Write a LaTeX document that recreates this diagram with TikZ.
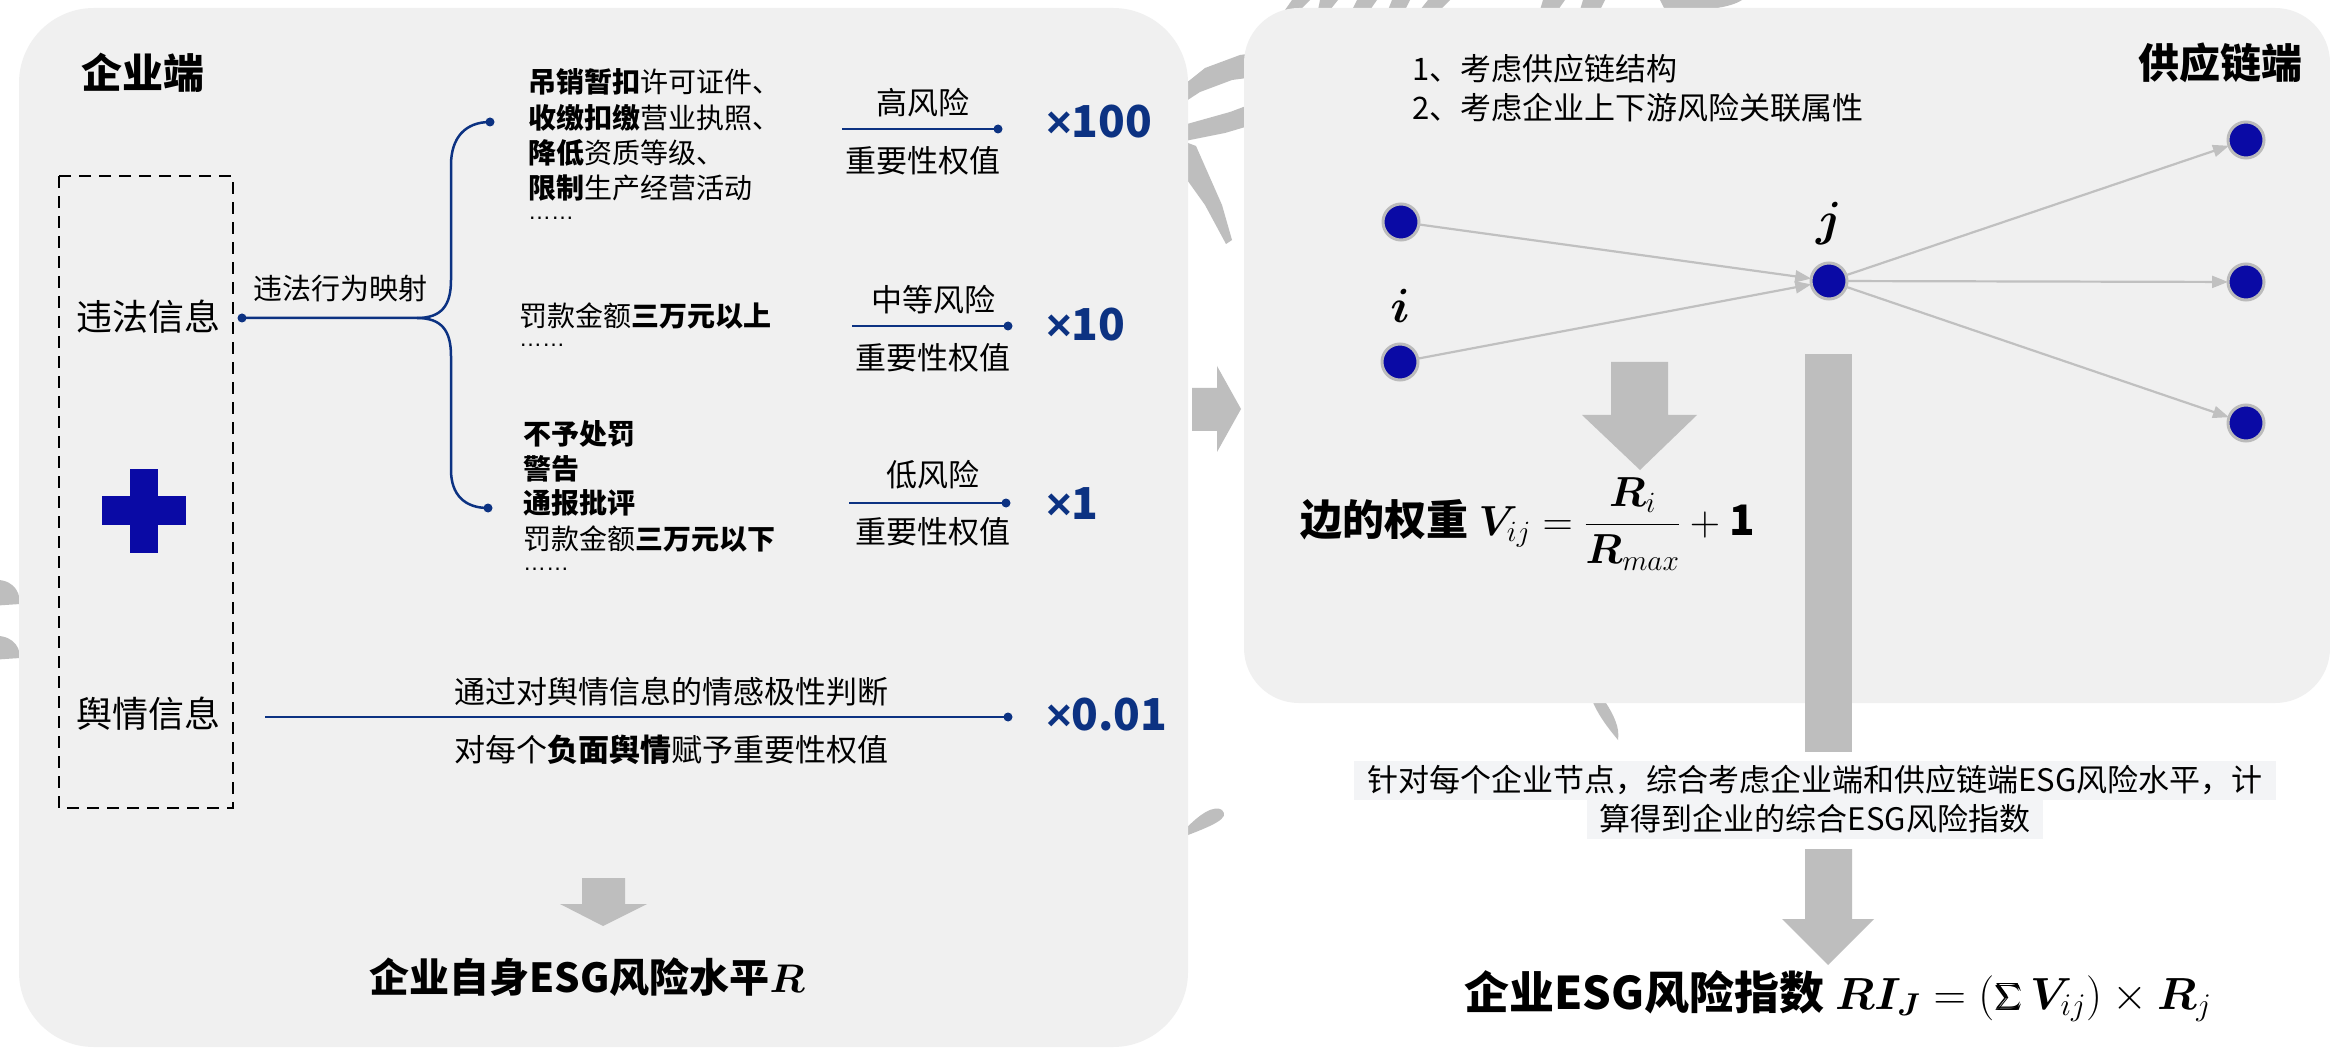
\documentclass[tikz,border=0pt]{standalone}
\usepackage{fix-cm}
\usepackage{amsmath}
\usepackage{bm}
\usepackage{fontspec}
\setmainfont{Noto Sans CJK SC}
\newfontfamily\latinf{Liberation Sans}
\usetikzlibrary{arrows.meta}
\definecolor{panelgray}{HTML}{F0F0F0}
\definecolor{wmgray}{HTML}{BEBEBE}
\definecolor{navy}{HTML}{0C3282}
\definecolor{nodeblue}{HTML}{0A0AA5}
\definecolor{nodering}{HTML}{BBBBBB}
\definecolor{edgegray}{HTML}{C0C0C0}
\definecolor{hlbg}{HTML}{F3F4F6}
\newcommand\fsz[1]{\fontsize{#1pt}{#1pt}\selectfont}
\newcommand\dotsline{{\latinf\fsz{23}……}}
\newcommand\timessign{{\latinf\bfseries ×}}
\begin{document}
\begin{tikzpicture}[x=1pt,y=-1pt,
  every node/.style={inner sep=0pt, outer sep=0pt, text=black},
  panel/.style={fill=panelgray},
  navyline/.style={draw=navy, line width=2.5pt},
  ndot/.style={fill=navy},
  title/.style={font=\fsz{41}\bfseries},
  infolbl/.style={font=\fsz{36}},
  maplbl/.style={font=\fsz{29}},
  blocktxt/.style={font=\fsz{28}, anchor=west},
  risklbl/.style={font=\fsz{31}},
  multlbl/.style={font=\fsz{44}\bfseries, text=navy, anchor=west},
  sumlbl/.style={font=\fsz{40}\bfseries},
  gnode/.style={circle, fill=nodeblue, draw=nodering, line width=3pt, minimum size=36pt},
  gedge/.style={draw=edgegray, line width=2.2pt, -{Triangle[length=16pt,width=12pt]}},
  bigarrow/.style={fill=wmgray},
  hltxt/.style={font=\fsz{31}, fill=hlbg, inner xsep=13pt, minimum height=39pt}
]
\useasboundingbox (0,0) rectangle (2330,1048);
\clip (0,0) rectangle (2330,1048);
\fill[white] (0,0) rectangle (2330,1048);

% ---- watermark strokes (behind panels)
\fill[wmgray] (1175,92) -- (1205,68) -- (1240,55) -- (1262,52) -- (1262,76) -- (1232,80) -- (1200,92) -- (1180,105) -- cycle;
\fill[wmgray] (1262,100) -- (1262,122) -- (1225,133) -- (1180,142) -- (1180,126) -- (1230,112) -- cycle;
\fill[wmgray] (1180,140) -- (1196,146) -- (1222,205) -- (1232,240) -- (1226,244) -- (1205,205) -- (1180,170) -- cycle;
\fill[wmgray] (1180,835) .. controls (1200,812) and (1215,805) .. (1222,810) .. controls (1230,818) and (1215,825) .. (1180,838) -- cycle;
\fill[wmgray] (1592,700) -- (1604,700) .. controls (1614,715) and (1620,728) .. (1618,740) .. controls (1608,728) and (1598,715) .. (1592,700) -- cycle;
\fill[wmgray] (-10,580) .. controls (10,578) and (20,588) .. (20,604) -- (-10,606) -- cycle;
\fill[wmgray] (-10,636) .. controls (10,634) and (20,644) .. (20,658) -- (-10,660) -- cycle;
\fill[wmgray] (1292,0) -- (1310,0) -- (1300,10) -- (1285,10) -- cycle;
\fill[wmgray] (1320,0) -- (1338,0) -- (1330,10) -- (1318,10) -- cycle;
\fill[wmgray] (1357,0) -- (1377,0) -- (1370,10) -- (1352,10) -- cycle;
\fill[wmgray] (1392,0) -- (1410,0) -- (1405,10) -- (1388,10) -- cycle;
\fill[wmgray] (1428,0) -- (1450,0) -- (1440,10) -- (1420,10) -- cycle;
\fill[wmgray] (1543,0) -- (1565,0) -- (1558,10) -- (1540,10) -- cycle;
\fill[wmgray] (1583,0) -- (1605,0) -- (1600,10) -- (1580,10) -- cycle;
\fill[wmgray] (1660,0) -- (1742,0) .. controls (1730,8) and (1700,12) .. (1665,10) -- cycle;

% ---- panels
\fill[panel, rounded corners=75pt] (19,8) rectangle (1188,1047);
\fill[panel, rounded corners=55pt] (1244,8) rectangle (2330,703);

% ---- left panel
\node[title] (qyd) at (143,73) {企业端};
\draw[black, line width=2.8pt, dash pattern=on 12pt off 8pt] (59,176) rectangle (233,808);
\node[infolbl] (wfxx) at (148,317) {违法信息};
\node[infolbl] (yqxx) at (148,714) {舆情信息};
\fill[nodeblue] (102,496) rectangle (186,525);
\fill[nodeblue] (130,469) rectangle (158,553);

% brace
\coordinate (d0) at (242,318);
\coordinate (dm) at (417,318);
\coordinate (d1) at (490,122);
\coordinate (d2) at (488,508);
\draw[navyline] (d0) -- (dm) .. controls (442,318) and (451,305) .. (451,280) -- (451,165) .. controls (451,138) and (465,122) .. (d1);
\draw[navyline] (dm) .. controls (442,318) and (451,331) .. (451,356) -- (451,470) .. controls (451,495) and (465,508) .. (d2);
\fill[ndot] (d0) circle (4.5pt);
\fill[ndot] (d1) circle (4.5pt);
\fill[ndot] (d2) circle (4.5pt);
\node[maplbl] (wfys) at (340,289) {违法行为映射};

% block 1
\node[blocktxt] (b11) at (528,82) {{\bfseries 吊销暂扣}许可证件、};
\node[blocktxt] (b12) at (528,118) {{\bfseries 收缴扣缴}营业执照、};
\node[blocktxt] (b13) at (528,153) {{\bfseries 降低}资质等级、};
\node[blocktxt] (b14) at (528,188) {{\bfseries 限制}生产经营活动};
\node[blocktxt] (b15) at (528,218) {\dotsline};
% block 2
\node[blocktxt] (b21) at (519,316) {罚款金额{\bfseries 三万元以上}};
\node[blocktxt] (b22) at (519,345) {\dotsline};
% block 3
\node[blocktxt] (b31) at (523,434) {\bfseries 不予处罚};
\node[blocktxt] (b32) at (523,469) {\bfseries 警告};
\node[blocktxt] (b33) at (523,503) {\bfseries 通报批评};
\node[blocktxt] (b34) at (523,539) {罚款金额{\bfseries 三万元以下}};
\node[blocktxt] (b35) at (523,569) {\dotsline};

% risk levels
\coordinate (h1) at (842,129); \coordinate (h2) at (998,129);
\draw[navyline] (h1) -- (h2); \fill[ndot] (h2) circle (4.5pt);
\node[risklbl] (hr) at (923,103) {高风险};
\node[risklbl] (hw) at (923,161) {重要性权值};
\node[multlbl] (x100) at (1046,122) {\timessign 100};

\coordinate (m1) at (852,326); \coordinate (m2) at (1008,326);
\draw[navyline] (m1) -- (m2); \fill[ndot] (m2) circle (4.5pt);
\node[risklbl] (mr) at (933,300) {中等风险};
\node[risklbl] (mw) at (933,358) {重要性权值};
\node[multlbl] (x10) at (1046,325) {\timessign 10};

\coordinate (l1) at (849,503); \coordinate (l2) at (1006,503);
\draw[navyline] (l1) -- (l2); \fill[ndot] (l2) circle (4.5pt);
\node[risklbl] (lr) at (933,475) {低风险};
\node[risklbl] (lw) at (933,532) {重要性权值};
\node[multlbl] (x1) at (1046,504) {\timessign 1};

\coordinate (y1) at (265,717); \coordinate (y2) at (1008,717);
\draw[navyline] (y1) -- (y2); \fill[ndot] (y2) circle (4.5pt);
\node[risklbl] (yt) at (671,692) {通过对舆情信息的情感极性判断};
\node[risklbl] (yb) at (671,750) {对每个{\bfseries 负面舆情}赋予重要性权值};
\node[multlbl] (x001) at (1046,715) {\timessign 0.01};

% down arrow left
\fill[bigarrow] (582,878) -- (625,878) -- (625,904) -- (647,904) -- (603,926) -- (560,904) -- (582,904) -- cycle;
\node[sumlbl] (selfR) at (587,977) {企业自身ESG风险水平$\bm{R}$};

% middle arrow
\fill[bigarrow] (1192,388) -- (1217,388) -- (1217,366) -- (1241,409) -- (1217,452) -- (1217,431) -- (1192,431) -- cycle;

% ---- right panel
\node[font=\fsz{31}, anchor=west] (c1) at (1412,69) {1、考虑供应链结构};
\node[font=\fsz{31}, anchor=west] (c2) at (1412,108) {2、考虑企业上下游风险关联属性};
\node[title] (gyld) at (2220,63) {供应链端};

% vertical bar (behind nodes)
\fill[bigarrow] (1805,354) rectangle (1852,752);

\node[gnode] (n1) at (1401,222) {};
\node[gnode] (n2) at (1400,362) {};
\node[gnode] (nj) at (1829,281) {};
\node[gnode] (r1) at (2246,140) {};
\node[gnode] (r2) at (2246,282) {};
\node[gnode] (r3) at (2246,423) {};
\draw[gedge] (n1) -- (nj);
\draw[gedge] (n2) -- (nj);
\draw[gedge] (nj) -- (r1);
\draw[gedge] (nj) -- (r2);
\draw[gedge] (nj) -- (r3);
\node[font=\fsz{48}] (li) at (1400,306) {$\bm{i}$};
\node[font=\fsz{48}] (lj) at (1829,224) {$\bm{j}$};

% arrow to edge weight
\fill[bigarrow] (1611,362) -- (1668,362) -- (1668,415) -- (1697,415) -- (1640,470) -- (1582,415) -- (1611,415) -- cycle;
\node[font=\fsz{42}\bfseries] (vw) at (1528,524) {边的权重 $\bm{V}_{ij}=\dfrac{\bm{R}_i}{\bm{R}_{max}}+\mathbf{1}$};

% combined text
\node[hltxt] (t1) at (1815,780) {针对每个企业节点，综合考虑企业端和供应链端ESG风险水平，计};
\node[hltxt] (t2) at (1815,819) {算得到企业的综合ESG风险指数};

% lower arrow
\fill[bigarrow] (1805,849) -- (1852,849) -- (1852,919) -- (1874,919) -- (1828,965) -- (1782,919) -- (1805,919) -- cycle;
\node[font=\fsz{45}\bfseries] (ri) at (1838,996) {企业ESG风险指数 $\bm{R}\bm{I}_{\bm{J}}=(\bm{\sum}\bm{V}_{ij})\times\bm{R}_j$};
\end{tikzpicture}
\end{document}
